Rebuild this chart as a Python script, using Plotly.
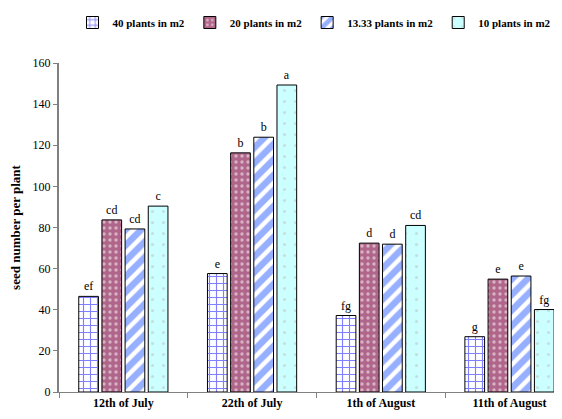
import plotly.graph_objects as go

categories = ["12th of July", "22th of July", "1th of August", "11th of August"]
series_names = ["40 plants in m2", "20 plants in m2", "13.33 plants in m2", "10 plants in m2"]
vals_40 = [46.5, 57.6, 37.2, 26.9]
vals_20 = [83.7, 116.3, 72.4, 54.9]
vals_13 = [79.3, 123.9, 71.9, 56.4]
vals_10 = [90.4, 149.3, 81.0, 40.1]
letters_40 = ["ef", "e", "fg", "g"]
letters_20 = ["cd", "b", "d", "e"]
letters_13 = ["cd", "b", "d", "e"]
letters_10 = ["c", "a", "cd", "fg"]
y_ticks = [0, 20, 40, 60, 80, 100, 120, 140, 160]

FONT = "Liberation Serif"

styles = [
    dict(color="white", pattern=dict(shape="+", fgcolor="#0000FF", bgcolor="white", size=7, solidity=0.3, fillmode="overlay")),
    dict(color="#B0668A", pattern=dict(shape=".", fgcolor="white", bgcolor="#B0668A", size=6, solidity=0.25, fillmode="overlay")),
    dict(color="white", pattern=dict(shape="/", fgcolor="#2F5FFF", bgcolor="white", size=11, solidity=0.6, fillmode="overlay")),
    dict(color="#CCFFFF", pattern=dict(shape=".", fgcolor="#BBBBBB", bgcolor="#CCFFFF", size=11, solidity=0.06, fillmode="overlay")),
]

fig = go.Figure()
for name, vals, lets, st in zip(series_names, [vals_40, vals_20, vals_13, vals_10],
                                [letters_40, letters_20, letters_13, letters_10], styles):
    fig.add_trace(go.Bar(
        name=name, x=categories, y=vals, text=lets, textposition="outside",
        textfont=dict(family=FONT, size=12, color="black"),
        cliponaxis=False,
        marker=dict(color=st["color"], pattern=st["pattern"], line=dict(color="black", width=1)),
    ))

fig.update_layout(
    width=562, height=419,
    margin=dict(l=51, r=0, t=55, b=35),
    paper_bgcolor="white", plot_bgcolor="white",
    barmode="group", bargap=0.28, bargroupgap=0.15,
    font=dict(family=FONT, size=12, color="black"),
    showlegend=True,
    legend=dict(orientation="h", x=0.5, xanchor="center", y=1.0, yref="container", yanchor="top",
                font=dict(family=FONT, size=11, color="black", weight="bold"),
                itemwidth=30, tracegroupgap=0),
    xaxis=dict(type="category", range=[-0.5, 3.47], showline=True, linecolor="#808080", linewidth=1,
               ticks="outside", tickson="boundaries", ticklen=5, tickcolor="#808080",
               tickfont=dict(family=FONT, size=12, weight="bold"), showgrid=False),
    yaxis=dict(range=[0, 160], tickvals=y_ticks, showline=True, linecolor="#808080", linewidth=2,
               ticks="outside", ticklen=4, tickcolor="#808080", showgrid=False, zeroline=False,
               tickfont=dict(family=FONT, size=12),
               title=dict(text="seed number per plant", font=dict(family=FONT, size=13, weight="bold"), standoff=12)),
)

fig.write_html("out.html")
